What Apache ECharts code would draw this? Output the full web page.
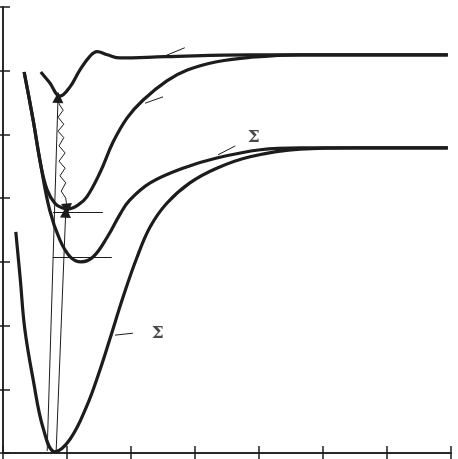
<!DOCTYPE html>
<html>
<head>
<meta charset="utf-8">
<script src="https://cdn.jsdelivr.net/npm/echarts@6/dist/echarts.min.js"></script>
<style>
  html, body { margin: 0; padding: 0; background: #fff; }
  #chart { width: 458px; height: 459px; }
</style>
</head>
<body>
<div id="chart"></div>
<script>
// potential curves, [r, E] (arbitrary units, 0..7)
var groundCurve = [[0.20,3.47],[0.27,2.73],[0.34,1.95],[0.47,1.16],[0.63,0.38],[0.81,0.02],[1.05,0.22],[1.31,0.74],[1.52,1.32],[1.67,1.79],[1.88,2.46],[2.09,3.06],[2.30,3.55],[2.56,3.92],[2.92,4.24],[3.34,4.47],[3.86,4.65],[4.64,4.77],[5.5,4.79],[6.95,4.79]];
var secondCurve = [[0.33,5.98],[0.47,5.23],[0.59,4.52],[0.73,3.81],[0.89,3.34],[1.05,3.08],[1.22,3.00],[1.41,3.08],[1.63,3.39],[1.83,3.75],[1.98,3.97],[2.30,4.24],[2.81,4.47],[3.34,4.63],[4.02,4.76],[4.64,4.79],[5.5,4.79],[6.95,4.79]];
var thirdCurve = [[0.33,5.98],[0.47,5.23],[0.59,4.52],[0.69,4.13],[0.81,3.92],[0.92,3.85],[1.02,3.83],[1.17,3.89],[1.31,4.02],[1.52,4.41],[1.72,4.88],[1.94,5.26],[2.19,5.54],[2.56,5.84],[2.88,6.01],[3.34,6.14],[3.86,6.21],[4.64,6.25],[5.5,6.25],[6.95,6.25]];
var topCurve = [[0.59,5.98],[0.73,5.81],[0.89,5.60],[1.05,5.75],[1.20,6.01],[1.36,6.23],[1.47,6.30],[1.63,6.25],[1.83,6.20],[2.53,6.22],[3.86,6.25],[5.5,6.25],[6.95,6.25]];

// wavy (radiationless) transition, zigzag points
var wavePoints = [[0.89,5.54],[0.875,5.48],[0.94,5.38],[0.86,5.27],[0.95,5.16],[0.86,5.05],[0.95,4.95],[0.875,4.82],[0.97,4.71],[0.875,4.58],[0.97,4.47],[0.89,4.35],[0.98,4.24],[0.91,4.11],[0.98,4.00],[0.99,3.93]];
var waveHead = [[0.99,3.93],[1.0,3.83]];

// absorption arrows [from, to]
var arrows = [
  [[0.69,0.03],[0.86,5.58]],
  [[0.83,0.02],[0.98,3.78]]
];
// level lines and label leaders
var levelLines = [
  [[0.78,3.78],[1.56,3.78]],
  [[0.78,3.08],[1.70,3.08]]
];
var leaders = [
  [[2.50,6.22],[2.84,6.36]],
  [[2.22,5.49],[2.50,5.59]],
  [[3.36,4.68],[3.63,4.82]],
  [[1.75,1.85],[2.03,1.88]]
];
var termLabels = [[3.92,4.95,"Σ"],[2.42,1.87,"Σ"]];

var ink = "#1c1c1c";

function curve(data, w) {
  return {
    type: "line",
    data: data,
    smooth: 0.4,
    showSymbol: false,
    clip: false,
    lineStyle: { color: ink, width: w },
    silent: true
  };
}

function thinLines(list, arrow) {
  return {
    type: "lines",
    coordinateSystem: "cartesian2d",
    symbol: arrow ? ["none", "triangle"] : ["none", "none"],
    symbolSize: [8, 11],
    lineStyle: { color: ink, width: 1, opacity: 1 },
    itemStyle: { color: ink },
    data: list.map(function (p) { return { coords: p }; }),
    silent: true
  };
}

var axisCommon = {
  type: "value",
  min: 0,
  max: 7,
  interval: 1,
  axisLine: { show: true, lineStyle: { color: ink, width: 1.5 } },
  axisTick: { show: true, inside: true, length: 7, lineStyle: { color: ink, width: 1.5 } },
  axisLabel: { show: false },
  splitLine: { show: false }
};

var option = {
  animation: false,
  grid: { left: 3, right: 7, top: 7, bottom: 6 },
  xAxis: [
    Object.assign({ position: "bottom" }, axisCommon),
    Object.assign({ position: "top" }, axisCommon)
  ],
  yAxis: [
    Object.assign({ position: "left" }, axisCommon),
    Object.assign({ position: "right" }, axisCommon)
  ],
  series: [
    curve(groundCurve, 3.2),
    curve(secondCurve, 3.2),
    curve(thirdCurve, 3.2),
    curve(topCurve, 3.2),
    {
      type: "line",
      data: wavePoints,
      showSymbol: false,
      lineStyle: { color: ink, width: 1 },
      silent: true
    },
    thinLines([waveHead], true),
    thinLines(arrows, true),
    thinLines(levelLines, false),
    thinLines(leaders, false),
    {
      type: "scatter",
      data: termLabels,
      symbolSize: 0,
      label: {
        show: true,
        position: "inside",
        formatter: function (p) { return p.value[2]; },
        color: ink,
        fontFamily: "DejaVu Serif",
        fontWeight: "bold",
        fontSize: 17
      },
      silent: true
    }
  ]
};

var myChart = echarts.init(document.getElementById("chart"));
myChart.setOption(option);
window.onresize = myChart.resize;
</script>
</body>
</html>
